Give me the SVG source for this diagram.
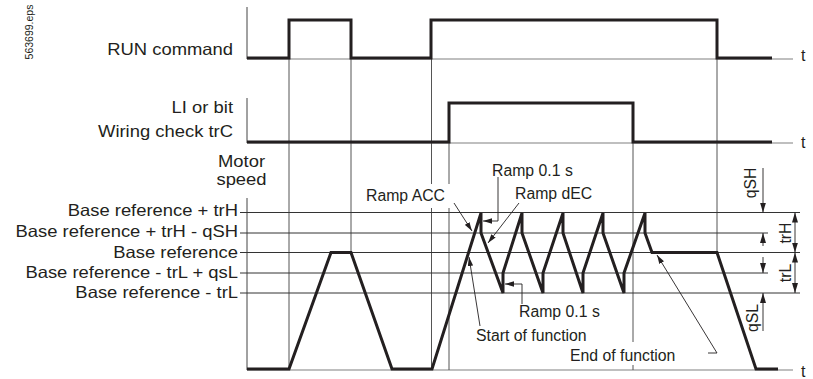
<svg xmlns="http://www.w3.org/2000/svg" width="813" height="379" viewBox="0 0 813 379">
<style>
  text { font-family: "Liberation Sans", Arial, Helvetica, sans-serif; fill: #231f20; }
  .lbl { font-size: 16.3px; text-anchor: end; }
  .ann { font-size: 15.8px; }
  .rot { font-size: 15.8px; text-anchor: middle; }
  .t { font-size: 16px; }
  .base { stroke: #808080; stroke-width: 1.2; fill: none; }
  .axis { stroke: #444; stroke-width: 1; fill: none; }
  .guide { stroke: #555; stroke-width: 1; fill: none; }
  .lvl { stroke: #333; stroke-width: 1; fill: none; }
  .sig { stroke: #231f20; stroke-width: 3; fill: none; stroke-linejoin: miter; }
  .ptr { stroke: #231f20; stroke-width: 0.9; fill: none; }
  .dim { stroke: #231f20; stroke-width: 0.9; fill: none; }
</style>
<defs>
  <marker id="ah" viewBox="0 0 10 6" refX="10" refY="3" markerWidth="9" markerHeight="5.4" markerUnits="userSpaceOnUse" orient="auto-start-reverse">
    <path d="M0,0 L10,3 L0,6 z" fill="#231f20"/>
  </marker>
  <marker id="dh" viewBox="0 0 10 6" refX="10" refY="3" markerWidth="10" markerHeight="6" markerUnits="userSpaceOnUse" orient="auto-start-reverse">
    <path d="M0,0 L10,3 L0,6 z" fill="#231f20"/>
  </marker>
</defs>
<rect width="813" height="379" fill="#ffffff"/>

<text x="33" y="32" transform="rotate(-90 33 32)" style="font-size:10.5px;text-anchor:middle">563699.eps</text>

<g id="axes">
  <path class="axis" d="M247,7 V59 M247,98 V143 M247,198 V370"/>
  <path class="base" d="M247,59 H793 M247,143 H793 M247,370 H793"/>
</g>

<g id="grid">
  <path class="guide" d="M289,59 V370 M351,59 V252 M431.5,59 V370 M449,143 V370 M633,143 V370 M717,59 V252"/>
  <path class="lvl" d="M240,212.5 H800 M240,233 H768 M240,252.5 H800 M240,273 H768 M240,293 H800"/>
</g>

<g id="label-boxes" fill="#ffffff">
  <rect x="362" y="184" width="91" height="24"/>
  <rect x="566" y="342" width="113" height="23"/>
</g>

<g id="labels">
  <text class="lbl" transform="translate(233,55) scale(1.13,1)">RUN command</text>
  <text class="lbl" transform="translate(233,113) scale(1.13,1)">LI or bit</text>
  <text class="lbl" transform="translate(233,137) scale(1.13,1)">Wiring check trC</text>
  <text transform="translate(241.5,167) scale(1.13,1)" style="font-size:16.3px;text-anchor:middle">Motor</text>
  <text transform="translate(241.5,185) scale(1.13,1)" style="font-size:16.3px;text-anchor:middle">speed</text>
  <text class="lbl" transform="translate(238,216) scale(1.13,1)">Base reference + trH</text>
  <text class="lbl" transform="translate(238,237) scale(1.13,1)">Base reference + trH - qSH</text>
  <text class="lbl" transform="translate(238,258) scale(1.13,1)">Base reference</text>
  <text class="lbl" transform="translate(238,278) scale(1.13,1)">Base reference - trL + qsL</text>
  <text class="lbl" transform="translate(238,298) scale(1.13,1)">Base reference - trL</text>
  <text class="t" x="801" y="61">t</text>
  <text class="t" x="801" y="148">t</text>
  <text class="t" x="801" y="377">t</text>
</g>

<g id="signals">
  <polyline id="run-command" class="sig" points="247,58 289,58 289,20 351,20 351,58 431,58 431,20 717,20 717,58 772,58"/>
  <polyline id="wiring-check" class="sig" points="247,142 449,142 449,103 633,103 633,142 772,142"/>
  <polyline id="motor-speed" class="sig" points="247,369 289,369 331,252.5 351,252.5 392,369 432,369 481,213 481,233 503,293 503,273 522,213 522,233 543,293 543,273 563,213 563,233 583,293 583,273 603,213 603,233 624,293 624,273 645,213 645,233 652,252.5 717,252.5 756,369 778,369"/>
</g>

<g id="annotations">
  <text class="ann" x="366" y="201">Ramp ACC</text>
  <text class="ann" x="492" y="176">Ramp 0.1 s</text>
  <text class="ann" x="515" y="199">Ramp dEC</text>
  <text class="ann" x="519" y="317">Ramp 0.1 s</text>
  <text class="ann" x="476" y="341">Start of function</text>
  <text class="ann" x="570" y="361">End of function</text>
  <text class="rot" transform="translate(756,183) rotate(-90)">qSH</text>
  <text class="rot" transform="translate(791,233) rotate(-90)">trH</text>
  <text class="rot" transform="translate(791,273) rotate(-90)">trL</text>
  <text class="rot" transform="translate(758,318) rotate(-90)">qSL</text>
</g>

<g id="connectors">
  <path class="ptr" marker-end="url(#ah)" d="M454,203 L472,231"/>
  <path class="ptr" marker-end="url(#ah)" d="M498,177 V221 H483"/>
  <path class="ptr" marker-end="url(#ah)" d="M519,203 L488,243"/>
  <path class="ptr" marker-end="url(#ah)" d="M480,326 L469,257"/>
  <path class="ptr" marker-end="url(#ah)" d="M522,304 V284 H505"/>
  <path class="ptr" marker-end="url(#ah)" d="M708,353 H717 L657,255"/>
  <path class="dim" marker-end="url(#dh)" d="M763,168 V212.5"/>
  <path class="dim" marker-end="url(#dh)" d="M763,246 V233"/>
  <path class="dim" marker-start="url(#dh)" marker-end="url(#dh)" d="M795,212.5 V252.5"/>
  <path class="dim" marker-start="url(#dh)" marker-end="url(#dh)" d="M795,252.5 V293"/>
  <path class="dim" marker-end="url(#dh)" d="M763,257 V273"/>
  <path class="dim" marker-end="url(#dh)" d="M763,331 V293"/>
</g>
</svg>
